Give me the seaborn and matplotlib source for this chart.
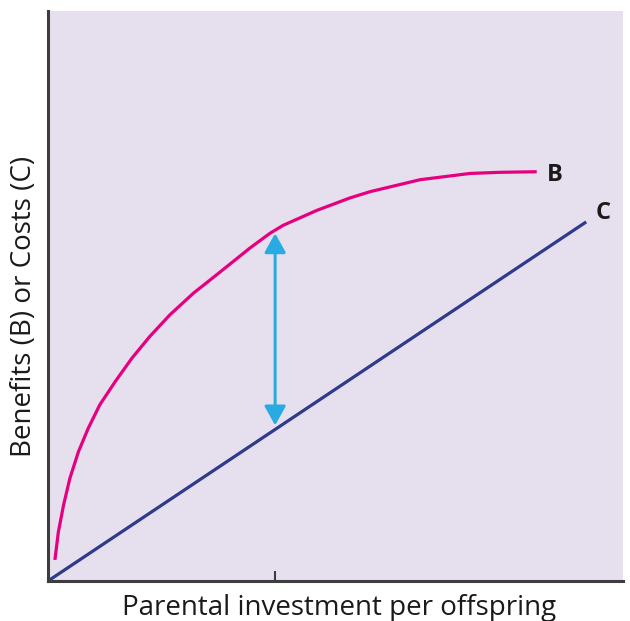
import matplotlib
matplotlib.use("Agg")
import matplotlib.pyplot as plt
import seaborn as sns
import pandas as pd

# Data (normalized 0..1 axes)
b_x = [0.012, 0.018, 0.027, 0.038, 0.053, 0.070, 0.090, 0.117, 0.146, 0.177,
       0.212, 0.253, 0.293, 0.351, 0.386, 0.409, 0.467, 0.525, 0.560, 0.647,
       0.734, 0.786, 0.850]
b_y = [0.037, 0.086, 0.133, 0.180, 0.227, 0.268, 0.309, 0.350, 0.391, 0.429,
       0.467, 0.505, 0.537, 0.584, 0.610, 0.624, 0.650, 0.672, 0.683, 0.704,
       0.715, 0.717, 0.718]
c_x = [0.0, 0.936]
c_y = [0.0, 0.630]
arrow_x = 0.395
arrow_y = [0.273, 0.610]
tick_x = [0.395]
curve_labels = ["B", "C"]
label_pos_x = [0.868, 0.953]
label_pos_y = [0.712, 0.646]

sns.set_theme(style="white")
plt.rcParams['font.family'] = ['Open Sans', 'DejaVu Sans']

fig = plt.figure(figsize=(6.3, 6.21), dpi=100)
ax = fig.add_axes([48/630, 40/621, 575/630, 570/621])
ax.set_facecolor("#e6dfee")

dfb = pd.DataFrame({"x": b_x, "y": b_y})
dfc = pd.DataFrame({"x": c_x, "y": c_y})
sns.lineplot(data=dfb, x="x", y="y", ax=ax, color="#e6007e", lw=2.3, sort=False)
sns.lineplot(data=dfc, x="x", y="y", ax=ax, color="#2e3a8c", lw=2.3, sort=False)
for ln in ax.get_lines():
    ln.set_solid_joinstyle("round")
    ln.set_solid_capstyle("butt")

ax.annotate("", xy=(arrow_x, arrow_y[1]), xytext=(arrow_x, arrow_y[0]),
            arrowprops=dict(arrowstyle="<|-|>,head_length=0.45,head_width=0.25",
                            color="#29abe2", lw=2.2,
                            mutation_scale=26, shrinkA=0, shrinkB=0))

for lbl, lx, ly in zip(curve_labels, label_pos_x, label_pos_y):
    ax.text(lx, ly, lbl, fontsize=17, fontweight="bold",
            va="center", ha="left", color="#1a1a1a")

ax.set_xlim(0, 1)
ax.set_ylim(0, 1)
ax.set_xticks(tick_x)
ax.set_xticklabels([])
ax.set_yticks([])
ax.tick_params(axis="x", direction="in", length=7, width=1.5, color="#3d3d3d", bottom=True)

for s in ["top", "right"]:
    ax.spines[s].set_visible(False)
for s in ["left", "bottom"]:
    ax.spines[s].set_color("#3d3d3d")
    ax.spines[s].set_linewidth(2.2)

ax.set_xlabel("Parental investment per offspring", fontsize=20, color="#1a1a1a")
ax.set_ylabel("Benefits (B) or Costs (C)", fontsize=20, color="#1a1a1a")
ax.xaxis.set_label_coords(0.506, -0.023)
ax.yaxis.set_label_coords(-0.017, 0.482)

fig.savefig("out.png", dpi=100)
